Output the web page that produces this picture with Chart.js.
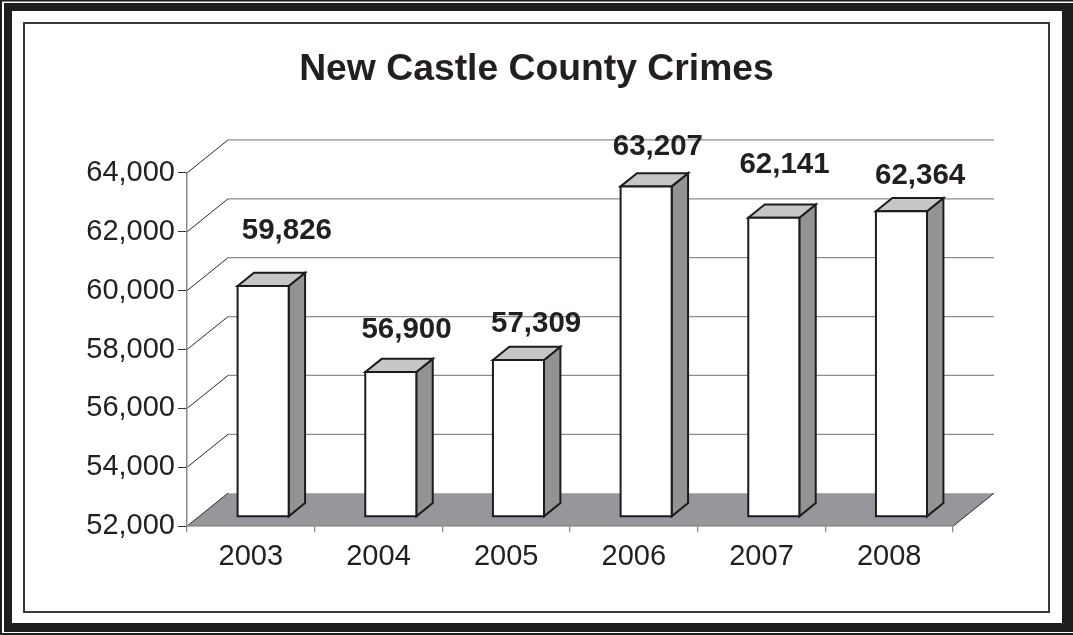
<!DOCTYPE html>
<html>
<head>
<meta charset="utf-8">
<title>New Castle County Crimes</title>
<script src="https://cdn.jsdelivr.net/npm/chart.js@4.4.0/dist/chart.umd.min.js"></script>
<style>
  html, body { margin: 0; padding: 0; background: #fff; }
  #wrap { width: 1073px; height: 635px; }
</style>
</head>
<body>
<div id="wrap"><canvas id="chart" width="1073" height="635"></canvas></div>
<script>
// Yearly totals of reported crimes
const years = ['2003', '2004', '2005', '2006', '2007', '2008'];
const crimes = [59826, 56900, 57309, 63207, 62141, 62364];
const yTicks = [52000, 54000, 56000, 58000, 60000, 62000, 64000];

const FONT = "'Liberation Sans', Arial, Helvetica, sans-serif";
const INK = '#231f20';

// Perspective: how far the back wall sits from the front plane
const DEPTH = { x: 41, y: -33 };
const BAR_FRONT = 0.3;   // fraction of depth in front of each bar
const BAR_DEPTH = 0.4;   // fraction of depth taken by each bar

const fmt = v => v.toLocaleString('en-US');

function poly(ctx, pts) {
  ctx.beginPath();
  ctx.moveTo(pts[0][0], pts[0][1]);
  for (let i = 1; i < pts.length; i++) ctx.lineTo(pts[i][0], pts[i][1]);
  ctx.closePath();
}

// Page frame, back wall grid and floor, drawn under the axes
const backdrop = {
  id: 'backdrop',
  beforeDraw(chart) {
    const { ctx, chartArea: a, scales: { y } } = chart;
    const W = chart.width, H = chart.height;
    ctx.save();
    ctx.fillStyle = '#fff';
    ctx.fillRect(0, 0, W, H);

    // outer double border
    ctx.fillStyle = '#1f1d1e';
    ctx.fillRect(0, 0, W, 1.5);
    ctx.fillRect(0, 0, 2, H);
    ctx.fillRect(0, H - 2, W, 2);
    ctx.fillRect(4, 3, W - 4, 8);
    ctx.fillRect(4, 3, 8, H - 3 - 3);
    ctx.fillRect(W - 11, 3, 11, H - 3 - 3);
    ctx.fillRect(4, H - 12, W - 4, 9);

    // inner frame
    ctx.strokeStyle = '#3a3a3a';
    ctx.lineWidth = 2;
    ctx.strokeRect(24, 23, 1025, 589);

    // back wall grid lines
    ctx.strokeStyle = '#8c8c8c';
    ctx.lineWidth = 1.3;
    y.ticks.forEach(t => {
      if (t.value <= y.min) return;
      const py = y.getPixelForValue(t.value) + DEPTH.y;
      ctx.beginPath();
      ctx.moveTo(a.left + DEPTH.x, py);
      ctx.lineTo(a.right + DEPTH.x, py);
      ctx.stroke();
    });

    // floor
    poly(ctx, [
      [a.left, a.bottom],
      [a.left + DEPTH.x, a.bottom + DEPTH.y],
      [a.right + DEPTH.x, a.bottom + DEPTH.y],
      [a.right, a.bottom]
    ]);
    ctx.fillStyle = '#96979b';
    ctx.fill();

    // side-wall diagonals from the value axis to the back wall
    ctx.strokeStyle = '#2a2a2a';
    ctx.lineWidth = 1;
    y.ticks.forEach(t => {
      const py = y.getPixelForValue(t.value);
      ctx.beginPath();
      ctx.moveTo(a.left, py);
      ctx.lineTo(a.left + DEPTH.x, py + DEPTH.y);
      ctx.stroke();
    });
    ctx.beginPath();
    ctx.moveTo(a.right, a.bottom);
    ctx.lineTo(a.right + DEPTH.x, a.bottom + DEPTH.y);
    ctx.stroke();
    ctx.restore();
  }
};

// Solid bars with front, top and side faces, plus value labels
const bars3d = {
  id: 'bars3d',
  afterDatasetsDraw(chart, args, opts) {
    const { ctx, scales: { y } } = chart;
    const meta = chart.getDatasetMeta(0);
    const values = chart.data.datasets[0].data;
    const floorY = y.getPixelForValue(y.min);
    ctx.save();
    ctx.lineJoin = 'miter';
    meta.data.forEach(bar => {
      const w = bar.width;
      const x0 = bar.x - w / 2 + DEPTH.x * BAR_FRONT;
      const x1 = x0 + w;
      const yt = bar.y + DEPTH.y * BAR_FRONT;
      const yb = floorY + DEPTH.y * BAR_FRONT;
      const dx = DEPTH.x * BAR_DEPTH, dy = DEPTH.y * BAR_DEPTH;

      ctx.lineWidth = 2;
      ctx.strokeStyle = '#1d1b1c';

      poly(ctx, [[x1, yt], [x1 + dx, yt + dy], [x1 + dx, yb + dy], [x1, yb]]);
      ctx.fillStyle = '#939395';
      ctx.fill();
      ctx.stroke();

      poly(ctx, [[x0, yt], [x0 + dx, yt + dy], [x1 + dx, yt + dy], [x1, yt]]);
      ctx.fillStyle = '#c6c6c6';
      ctx.fill();
      ctx.stroke();

      poly(ctx, [[x0, yt], [x1, yt], [x1, yb], [x0, yb]]);
      ctx.fillStyle = '#ffffff';
      ctx.fill();
      ctx.stroke();
    });

    ctx.fillStyle = INK;
    ctx.font = `bold 29.5px ${FONT}`;
    ctx.textAlign = 'center';
    ctx.textBaseline = 'middle';
    meta.data.forEach((bar, i) => {
      const off = opts.labelOffsets[i] || [28, -52];
      ctx.fillText(fmt(values[i]), bar.x + off[0], bar.y + off[1]);
    });
    ctx.restore();
  }
};

new Chart(document.getElementById('chart'), {
  type: 'bar',
  data: {
    labels: years,
    datasets: [{
      label: 'Crimes',
      data: crimes,
      backgroundColor: 'rgba(0,0,0,0)',
      borderWidth: 0,
      categoryPercentage: 1,
      barPercentage: 0.4
    }]
  },
  options: {
    responsive: false,
    animation: false,
    devicePixelRatio: 1,
    layout: { padding: { top: 30, left: 0, right: 0, bottom: 54 } },
    plugins: {
      legend: { display: false },
      tooltip: { enabled: false },
      title: {
        display: true,
        text: 'New Castle County Crimes',
        color: INK,
        font: { family: FONT, size: 37.3, weight: 'bold', lineHeight: 1.2 },
        padding: { top: 17, bottom: 81.2 }
      },
      bars3d: {
        labelOffsets: [[36, -65], [28, -52], [30, -46], [24, -49], [23, -63], [31, -45]]
      }
    },
    scales: {
      x: {
        grid: { offset: true, drawOnChartArea: false, tickLength: 6, color: '#8a8a8a', lineWidth: 1.3 },
        border: { color: '#8a8a8a', width: 1.5 },
        ticks: { color: INK, padding: 7, font: { family: FONT, size: 29 } }
      },
      y: {
        min: 52000,
        max: 64000,
        afterBuildTicks: s => { s.ticks = yTicks.map(v => ({ value: v })); },
        afterFit: s => { s.width = 187; },
        grid: { drawOnChartArea: false, tickLength: 9, color: '#333', lineWidth: 1 },
        border: { color: '#8a8a8a', width: 1.5 },
        ticks: { color: INK, padding: 3, font: { family: FONT, size: 29 }, callback: v => fmt(v) }
      },
      // blank right-hand gutter that leaves room for the chart's depth
      gutter: {
        type: 'linear',
        position: 'right',
        display: true,
        grid: { display: false },
        border: { display: false },
        ticks: { display: false },
        afterFit: s => { s.width = 120; }
      }
    }
  },
  plugins: [backdrop, bars3d]
});
</script>
</body>
</html>
